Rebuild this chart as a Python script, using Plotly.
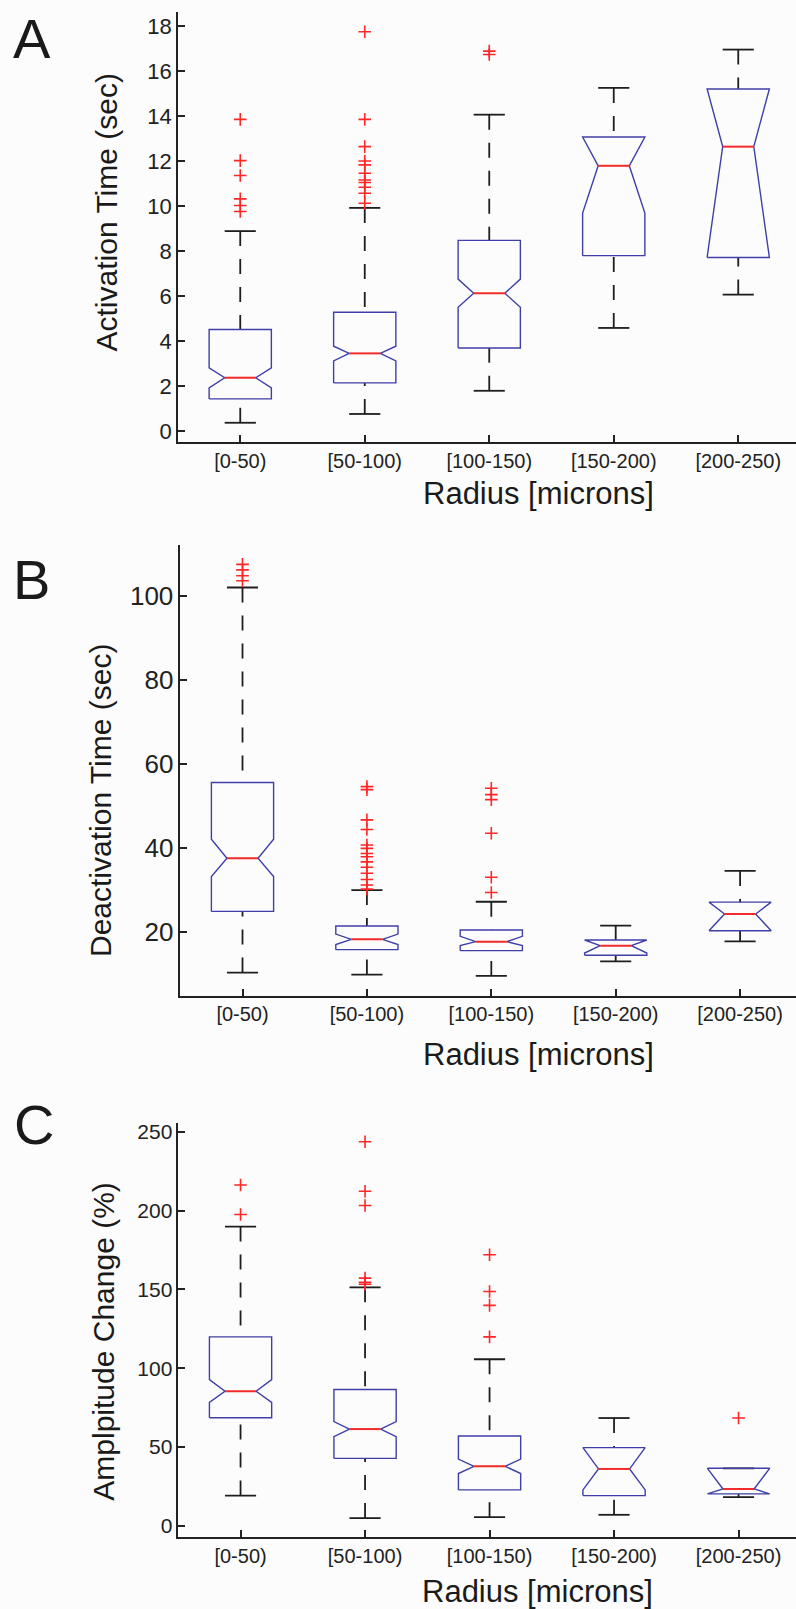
import plotly.graph_objects as go

W, H = 796, 1609

categories = ["[0-50)", "[50-100)", "[100-150)", "[150-200)", "[200-250)"]

# Panel A: activation time (sec)
act_q1 = [1.44, 2.15, 3.70, 7.80, 7.72]
act_median = [2.38, 3.46, 6.13, 11.79, 12.64]
act_q3 = [4.52, 5.29, 8.48, 13.07, 15.20]
act_notch_lo = [1.93, 3.13, 5.51, 9.69, 7.72]
act_notch_hi = [2.82, 3.78, 6.76, 13.07, 15.20]
act_whisker_lo = [0.38, 0.77, 1.80, 4.59, 6.07]
act_whisker_hi = [8.89, 9.92, 14.06, 15.25, 16.95]
act_outliers = [
    [13.85, 12.02, 11.36, 10.32, 10.03, 9.76],
    [17.74, 13.85, 12.64, 12.0, 11.83, 11.46, 11.16, 11.05, 10.84, 10.57, 10.13],
    [16.88, 16.73],
    [],
    [],
]

# Panel B: deactivation time (sec)
deact_q1 = [24.9, 15.8, 15.56, 14.45, 20.3]
deact_median = [37.56, 18.25, 17.7, 16.75, 24.27]
deact_q3 = [55.6, 21.42, 20.47, 18.1, 27.1]
deact_notch_lo = [33.2, 17.0, 16.75, 15.0, 20.3]
deact_notch_hi = [42.1, 19.5, 18.96, 18.1, 27.1]
deact_whisker_lo = [10.34, 9.86, 9.55, 13.03, 17.77]
deact_whisker_hi = [102.0, 29.97, 27.2, 21.5, 34.55]
deact_outliers = [
    [107.5, 106.2, 104.8, 103.6],
    [54.6, 53.9, 46.7, 44.4, 40.7, 39.9, 38.7, 37.9, 36.7, 35.4, 34.0, 32.5, 31.2, 30.2],
    [54.2, 52.7, 51.5, 43.5, 33.05, 29.4],
    [],
    [],
]

# Panel C: amplitude change (%)
amp_q1 = [68.6, 42.8, 22.8, 19.2, 20.3]
amp_median = [85.4, 61.4, 37.8, 36.1, 23.4]
amp_q3 = [119.9, 86.5, 57.0, 49.6, 36.5]
amp_notch_lo = [78.3, 56.6, 33.2, 22.8, 20.3]
amp_notch_hi = [92.8, 66.1, 42.4, 49.6, 36.5]
amp_whisker_lo = [19.2, 4.9, 5.5, 7.0, 18.2]
amp_whisker_hi = [189.9, 151.3, 105.7, 68.4, 36.5]
amp_outliers = [
    [216.3, 197.5],
    [243.7, 212.3, 203.2, 157.2, 154.5, 153.3],
    [172.0, 148.7, 139.9, 119.9],
    [],
    [68.4],
]

FONT = "Liberation Sans, Arial, Helvetica, sans-serif"
BOX_BLUE = "#3f3fa8"
MED_RED = "#f22a2a"
WHISK = "#1e1e1e"
OUT_RED = "#ff2626"

BOX_HALF = 0.25      # box width 0.5
NOTCH_HALF = 0.125   # notch narrows to half the box width
CAP_HALF = 0.125     # whisker cap half width

positions = list(range(1, len(categories) + 1))


def panel_traces(q1, med, q3, nlo, nhi, wlo, whi, outl, xa, ya):
    wx, wy, cx, cy, bx, by, mx, my, ox, oy = ([] for _ in range(10))
    for i, p in enumerate(positions):
        # whiskers, drawn from the cap toward the box
        wx += [p, p, None, p, p, None]
        wy += [whi[i], q3[i], None, wlo[i], q1[i], None]
        # caps
        cx += [p - CAP_HALF, p + CAP_HALF, None, p - CAP_HALF, p + CAP_HALF, None]
        cy += [whi[i], whi[i], None, wlo[i], wlo[i], None]
        # notched box outline
        l, r = p - BOX_HALF, p + BOX_HALF
        nl, nr = p - NOTCH_HALF, p + NOTCH_HALF
        bx += [l, l, nl, l, l, r, r, nr, r, r, l, None]
        by += [q1[i], nlo[i], med[i], nhi[i], q3[i], q3[i], nhi[i], med[i], nlo[i], q1[i], q1[i], None]
        # median
        mx += [nl, nr, None]
        my += [med[i], med[i], None]
        # outliers
        ox += [p] * len(outl[i])
        oy += list(outl[i])
    common = dict(xaxis=xa, yaxis=ya, showlegend=False, hoverinfo="skip")
    return [
        go.Scatter(x=wx, y=wy, mode="lines",
                   line=dict(color=WHISK, width=1.8, dash="15px,13px"), **common),
        go.Scatter(x=cx, y=cy, mode="lines", line=dict(color=WHISK, width=1.8), **common),
        go.Scatter(x=bx, y=by, mode="lines", line=dict(color=BOX_BLUE, width=1.4), **common),
        go.Scatter(x=mx, y=my, mode="lines", line=dict(color=MED_RED, width=2), **common),
        go.Scatter(x=ox, y=oy, mode="markers",
                   marker=dict(symbol="cross-thin", size=9,
                               line=dict(color=OUT_RED, width=1.6)), **common),
    ]


fig = go.Figure()
for t in panel_traces(act_q1, act_median, act_q3, act_notch_lo, act_notch_hi,
                      act_whisker_lo, act_whisker_hi, act_outliers, "x", "y"):
    fig.add_trace(t)
for t in panel_traces(deact_q1, deact_median, deact_q3, deact_notch_lo, deact_notch_hi,
                      deact_whisker_lo, deact_whisker_hi, deact_outliers, "x2", "y2"):
    fig.add_trace(t)
for t in panel_traces(amp_q1, amp_median, amp_q3, amp_notch_lo, amp_notch_hi,
                      amp_whisker_lo, amp_whisker_hi, amp_outliers, "x3", "y3"):
    fig.add_trace(t)


def px_x(v):
    return v / W


def px_y(v):
    return 1 - v / H


def xaxis_cfg(left_px, spacing_px):
    return dict(
        domain=[px_x(left_px), 1],
        range=[0.5, 0.5 + (W - left_px) / spacing_px],
        tickmode="array", tickvals=positions, ticktext=categories,
        ticks="inside", ticklen=7, tickwidth=1.5, tickcolor="#222",
        showline=True, linecolor="#222", linewidth=1.5,
        showgrid=False, zeroline=False,
        tickfont=dict(family=FONT, size=20, color="#222"),
        fixedrange=True,
    )


def yaxis_cfg(bottom_px, top_px, rng, tickvals, fsize, anchor):
    return dict(
        domain=[px_y(bottom_px), px_y(top_px)],
        range=rng, tickmode="array", tickvals=tickvals,
        ticks="inside", ticklen=7, tickwidth=1.5, tickcolor="#222",
        showline=True, linecolor="#222", linewidth=1.5,
        showgrid=False, zeroline=False, anchor=anchor,
        tickfont=dict(family=FONT, size=fsize, color="#222"),
        fixedrange=True,
    )


fig.update_layout(
    width=W, height=H,
    margin=dict(l=0, r=0, t=0, b=0),
    paper_bgcolor="#fcfcfc", plot_bgcolor="#fcfcfc",
    showlegend=False,
    xaxis=dict(xaxis_cfg(178, 124.5), anchor="y"),
    yaxis=yaxis_cfg(441, 10, [-0.47, 18.62], list(range(0, 19, 2)), 22, "x"),
    xaxis2=dict(xaxis_cfg(180.3, 124.4), anchor="y2"),
    yaxis2=yaxis_cfg(996, 544, [4.88, 112.2], [20, 40, 60, 80, 100], 26, "x2"),
    xaxis3=dict(xaxis_cfg(178.3, 124.5), anchor="y3"),
    yaxis3=yaxis_cfg(1538.7, 1123.3, [-7.0, 255.9], [0, 50, 100, 150, 200, 250], 21, "x3"),
)

annotations = []
# panel letters
for letter, lx, ly in [("A", 11, 37), ("B", 11, 579), ("C", 12, 1125)]:
    annotations.append(dict(text=letter, x=px_x(lx), y=px_y(ly), xref="paper", yref="paper",
                            xanchor="left", yanchor="middle", showarrow=False,
                            font=dict(family=FONT, size=56, color="#1a1a1a")))
# y-axis titles
for txt, tx, ty in [("Activation Time (sec)", 106, 211),
                    ("Deactivation Time (sec)", 100, 800),
                    ("Amplpitude Change (%)", 104, 1343)]:
    annotations.append(dict(text=txt, x=px_x(tx), y=px_y(ty), xref="paper", yref="paper",
                            xanchor="center", yanchor="middle", textangle=-90, showarrow=False,
                            font=dict(family=FONT, size=30, color="#1a1a1a")))
# x-axis titles
for tx, ty in [(538, 493), (538, 1055), (537, 1593)]:
    annotations.append(dict(text="Radius [microns]", x=px_x(tx), y=px_y(ty),
                            xref="paper", yref="paper", xanchor="center", yanchor="middle",
                            showarrow=False, font=dict(family=FONT, size=31, color="#1a1a1a")))
fig.update_layout(annotations=annotations)

fig.write_html("out.html")
